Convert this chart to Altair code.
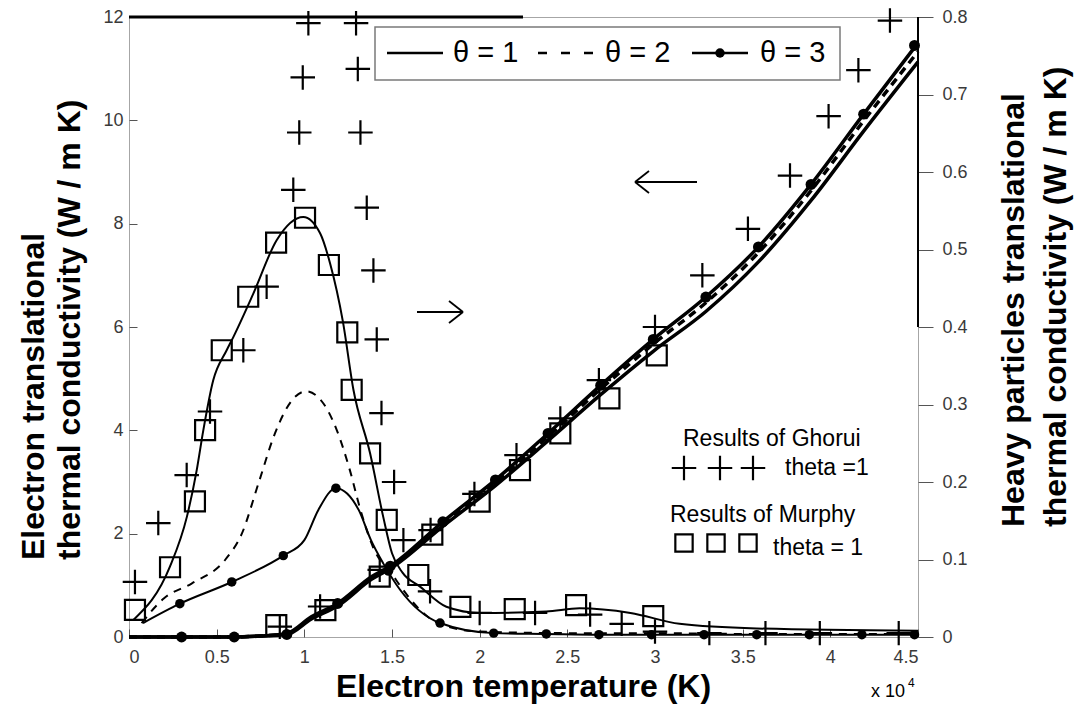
import altair as alt
import pandas as pd

# ---------------- data (x in units of 10^4 K) ----------------
# Electron translational thermal conductivity (left axis, W/m K)
elec_x = [0.0, 0.3, 0.6, 0.75, 0.9, 1.04, 1.19, 1.385, 1.49, 1.79, 2.09, 2.39, 2.69, 2.99, 3.29, 3.59, 3.89, 4.19, 4.5]
elec_t1 = [0.0, 0.0, 0.0, 0.02, 0.05, 0.35, 0.60, 1.12, 1.32, 2.14, 2.93, 3.80, 4.69, 5.53, 6.30, 7.26, 8.45, 9.79, 11.13]
elec_t2 = [0.0, 0.0, 0.0, 0.02, 0.06, 0.37, 0.63, 1.15, 1.35, 2.19, 2.99, 3.88, 4.80, 5.67, 6.47, 7.44, 8.64, 9.99, 11.33]
elec_t3 = [0.0, 0.0, 0.0, 0.02, 0.07, 0.39, 0.65, 1.17, 1.37, 2.23, 3.04, 3.94, 4.87, 5.76, 6.58, 7.55, 8.76, 10.12, 11.50]
elec_dot_x = [0.3, 0.6, 0.9, 1.19, 1.49, 1.79, 2.09, 2.39, 2.69, 2.99, 3.29, 3.59, 3.89, 4.19, 4.48]
elec_dot_y = [0.0, 0.0, 0.05, 0.65, 1.37, 2.23, 3.04, 3.94, 4.87, 5.76, 6.58, 7.55, 8.76, 10.12, 11.45]

# Heavy particles translational thermal conductivity (right axis, W/m K)
heavy_t1_x = [0.025, 0.234, 0.33, 0.386, 0.424, 0.48, 0.557, 0.595, 0.709, 0.842, 0.994, 1.09, 1.147, 1.22,
              1.28, 1.375, 1.45, 1.5, 1.56, 1.66, 1.81, 2.0, 2.38, 2.57, 2.86, 3.14, 3.58, 4.5]
heavy_t1_y = [0.022, 0.091, 0.155, 0.215, 0.267, 0.331, 0.370, 0.387, 0.443, 0.512, 0.542, 0.521, 0.482, 0.407,
              0.319, 0.237, 0.155, 0.108, 0.083, 0.065, 0.039, 0.031, 0.033, 0.037, 0.031, 0.017, 0.011, 0.008]
heavy_t2_x = [0.072, 0.2, 0.357, 0.55, 0.643, 0.738, 0.833, 0.928, 1.01, 1.11, 1.185, 1.26, 1.32, 1.39,
              1.51, 1.55, 1.66, 1.77, 2.0, 2.5, 3.0, 3.5, 4.5]
heavy_t2_y = [0.018, 0.050, 0.069, 0.100, 0.133, 0.198, 0.263, 0.305, 0.317, 0.301, 0.267, 0.215, 0.164, 0.117,
              0.078, 0.065, 0.035, 0.017, 0.007, 0.005, 0.005, 0.004, 0.004]
heavy_t3_x = [0.08, 0.29, 0.586, 0.88, 1.0, 1.08, 1.18, 1.31, 1.38, 1.45, 1.546, 1.774, 2.08, 2.38, 2.68,
              2.98, 3.58, 4.5]
heavy_t3_y = [0.018, 0.043, 0.071, 0.105, 0.125, 0.164, 0.192, 0.164, 0.125, 0.095, 0.061, 0.018, 0.005,
              0.004, 0.003, 0.003, 0.003, 0.003]
heavy_dot_x = [0.29, 0.586, 0.88, 1.18, 1.48, 1.774, 2.08, 2.38, 2.68, 2.98, 3.28, 3.58, 3.88, 4.18, 4.48]
heavy_dot_y = [0.043, 0.071, 0.105, 0.192, 0.085, 0.018, 0.005, 0.004, 0.003, 0.003, 0.003, 0.003, 0.003,
               0.003, 0.003]

# Results of Ghorui (theta = 1)
ghorui_heavy_x = [0.034, 0.167, 0.329, 0.462, 0.652, 0.785, 0.937, 0.971, 0.991, 1.023, 1.295, 1.305, 1.32,
                  1.356, 1.394, 1.413, 1.44, 1.512, 1.565, 1.717, 2.0, 2.316, 2.63, 2.81, 3.0, 3.31, 3.63,
                  3.94, 4.39]
ghorui_heavy_y = [0.071, 0.147, 0.209, 0.291, 0.370, 0.452, 0.577, 0.651, 0.722, 0.792, 0.792, 0.733, 0.651,
                  0.554, 0.473, 0.384, 0.289, 0.200, 0.125, 0.059, 0.031, 0.031, 0.029, 0.017, 0.007, 0.005,
                  0.005, 0.005, 0.005]
ghorui_elec_x = [0.86, 1.09, 1.43, 1.72, 1.97, 2.21, 2.46, 2.68, 3.0, 3.27, 3.53, 3.77, 3.99, 4.16, 4.34]
ghorui_elec_y = [0.2, 0.59, 1.3, 2.07, 2.77, 3.52, 4.23, 4.97, 6.0, 7.0, 7.9, 8.93, 10.08, 10.97, 11.93]

# Results of Murphy (theta = 1)
murphy_heavy_x = [0.034, 0.234, 0.376, 0.434, 0.529, 0.68, 0.839, 1.004, 1.14, 1.245, 1.27, 1.375, 1.47,
                  1.65, 1.89, 2.2, 2.55, 2.99]
murphy_heavy_y = [0.035, 0.090, 0.175, 0.267, 0.370, 0.439, 0.509, 0.541, 0.480, 0.393, 0.319, 0.237, 0.151,
                  0.080, 0.039, 0.036, 0.041, 0.027]
murphy_elec_x = [0.84, 1.12, 1.43, 1.73, 2.0, 2.23, 2.46, 2.74, 3.01]
murphy_elec_y = [0.23, 0.52, 1.17, 1.98, 2.62, 3.23, 3.94, 4.62, 5.45]

x_ticks = [0, 0.5, 1, 1.5, 2, 2.5, 3, 3.5, 4, 4.5]
left_ticks = [0, 2, 4, 6, 8, 10, 12]
right_ticks = [0, 0.1, 0.2, 0.3, 0.4, 0.5, 0.6, 0.7, 0.8]

# ---------------- layout ----------------
W, H = 789, 620
X0, Y0 = 129, 17
FONT = "Liberation Sans"
PLUS = "M-1,0L1,0M0,-1L0,1"


def df(xs, ys):
    return pd.DataFrame({"x": xs, "y": ys})


dummy = pd.DataFrame({"k": [0]})

x_scale = alt.Scale(domain=[0, 4.5], nice=False)
x_axis = alt.Axis(values=x_ticks, format="~g", tickSize=8, offset=-8, domain=False, grid=False,
                  labelPadding=11, labelFontSize=18, labelFont=FONT, labelColor="#3a3a3a",
                  tickColor="#555555", title=None)
yl_scale = alt.Scale(domain=[0, 12], nice=False)
yl_axis = alt.Axis(values=left_ticks, format="~g", orient="left", tickSize=8, offset=-8, domain=False,
                   grid=False, labelPadding=6, labelFontSize=18, labelFont=FONT, labelColor="#3a3a3a",
                   tickColor="#555555", title=None)
yr_scale = alt.Scale(domain=[0, 0.8], nice=False)
yr_axis = alt.Axis(values=right_ticks, format="~g", orient="right", tickSize=15, domain=False,
                   grid=False, labelPadding=9, labelFontSize=18, labelFont=FONT, labelColor="#3a3a3a",
                   tickColor="#555555", title=None)


def enc(ch, side):
    if side == "L":
        y = alt.Y("y:Q", scale=yl_scale, axis=yl_axis)
    else:
        y = alt.Y("y:Q", scale=yr_scale, axis=yr_axis)
    return ch.encode(x=alt.X("x:Q", scale=x_scale, axis=x_axis), y=y)


def line(xs, ys, side, width, dash=None):
    kw = dict(color="black", strokeWidth=width, interpolate="monotone")
    if dash:
        kw["strokeDash"] = dash
    return enc(alt.Chart(df(xs, ys)).mark_line(**kw), side)


def dots(xs, ys, side, size):
    return enc(alt.Chart(df(xs, ys)).mark_circle(size=size, color="black", opacity=1), side)


def plus(xs, ys, side):
    return enc(alt.Chart(df(xs, ys)).mark_point(shape=PLUS, size=600, filled=False, stroke="black",
                                               strokeWidth=2.2, opacity=1), side)


def square(xs, ys, side):
    return enc(alt.Chart(df(xs, ys)).mark_point(shape="square", size=400, filled=False, stroke="black",
                                               strokeWidth=2.2, opacity=1), side)


left_group = alt.layer(
    line(elec_x, elec_t1, "L", 3.5),
    line(elec_x, elec_t2, "L", 3.5, [8, 6]),
    line(elec_x, elec_t3, "L", 3.5),
    dots(elec_dot_x, elec_dot_y, "L", 120),
    plus(ghorui_elec_x, ghorui_elec_y, "L"),
    square(murphy_elec_x, murphy_elec_y, "L"),
)

right_group = alt.layer(
    line(heavy_t1_x, heavy_t1_y, "R", 2),
    line(heavy_t2_x, heavy_t2_y, "R", 2, [8, 7]),
    line(heavy_t3_x, heavy_t3_y, "R", 2),
    dots(heavy_dot_x, heavy_dot_y, "R", 90),
    plus(ghorui_heavy_x, ghorui_heavy_y, "R"),
    square(murphy_heavy_x, murphy_heavy_y, "R"),
)


# ---------------- annotations (page pixel positions) ----------------
def text(t, x, y, size, bold=False, align="left", baseline="middle", angle=None, font=FONT):
    kw = dict(text=t, x=x - X0, y=y - Y0, fontSize=size, font=font, align=align, baseline=baseline,
              color="black", fontWeight="bold" if bold else "normal")
    if angle is not None:
        kw["angle"] = angle
    return alt.Chart(dummy).mark_text(**kw).encode(opacity=alt.value(1))


def seg(x1, y1, x2, y2, width=1.8, color="black", dash=None):
    kw = dict(color=color, strokeWidth=width)
    if dash:
        kw["strokeDash"] = dash
    return alt.Chart(dummy).mark_rule(**kw).encode(
        x=alt.value(x1 - X0), x2=alt.value(x2 - X0), y=alt.value(y1 - Y0), y2=alt.value(y2 - Y0))


def sym(x, y, shape, size, filled, width=2.2):
    if filled:
        return alt.Chart(dummy).mark_circle(size=size, color="black", opacity=1).encode(
            x=alt.value(x - X0), y=alt.value(y - Y0))
    return alt.Chart(dummy).mark_point(shape=shape, size=size, filled=False, stroke="black",
                                       strokeWidth=width, opacity=1).encode(
        x=alt.value(x - X0), y=alt.value(y - Y0))


legend_box = alt.Chart(dummy).mark_rect(fill="white", stroke="#7a7a7a", strokeWidth=1.5).encode(
    x=alt.value(375 - X0), x2=alt.value(840 - X0), y=alt.value(27 - Y0), y2=alt.value(80 - Y0))

annotations = [
    # frame accents
    seg(X0, Y0, 523, Y0, width=3),
    seg(X0 + W, Y0, X0 + W, 327, width=2),
    # top legend
    legend_box,
    seg(387, 53, 443, 53, width=2.5),
    text("θ = 1", 453, 53, 29),
    seg(538, 53, 596, 53, width=2.5, dash=[9, 14]),
    text("θ = 2", 605, 53, 29),
    seg(692, 53, 748, 53, width=2.5),
    sym(720, 53, "circle", 90, True),
    text("θ = 3", 760, 53, 29),
    # arrows
    seg(417, 312, 463, 312),
    seg(463, 312, 449, 301),
    seg(463, 312, 449, 323),
    seg(635, 182, 697, 182),
    seg(635, 182, 649, 171),
    seg(635, 182, 649, 193),
    # lower legend
    text("Results of Ghorui", 683, 439, 23),
    sym(684, 468, PLUS, 600, False),
    sym(720, 468, PLUS, 600, False),
    sym(753, 468, PLUS, 600, False),
    text("theta =1", 785, 468, 23),
    text("Results of Murphy", 670, 515, 23),
    sym(684, 543, "square", 300, False),
    sym(716, 543, "square", 300, False),
    sym(748, 543, "square", 300, False),
    text("theta = 1", 773, 548, 23),
    # axis titles
    text("Electron temperature (K)", X0 + W / 2, 697, 32, bold=True, align="center", baseline="alphabetic"),
    text("x 10", 871, 697, 18, baseline="alphabetic"),
    text("4", 908, 687, 12, baseline="alphabetic"),
    text("Electron translational", 44, 560, 32, bold=True, baseline="alphabetic", angle=270),
    text("thermal conductivity (W / m K)", 80, 560, 32, bold=True, baseline="alphabetic", angle=270),
    text("Heavy particles translational", 1024, 527, 32, bold=True, baseline="alphabetic", angle=270),
    text("thermal conductivity (W / m K)", 1066, 527, 32, bold=True, baseline="alphabetic", angle=270),
]

chart = alt.layer(left_group, right_group, *annotations).resolve_scale(y="independent").properties(
    width=W, height=H,
    padding={"left": X0, "top": Y0, "right": 1085 - X0 - W, "bottom": 709 - Y0 - H},
    autosize=alt.AutoSizeParams(type="none"),
    background="white",
).configure_view(stroke="#a6a6a6", strokeWidth=1)

chart.save("out.html", embed_options={"renderer": "svg", "actions": False})
